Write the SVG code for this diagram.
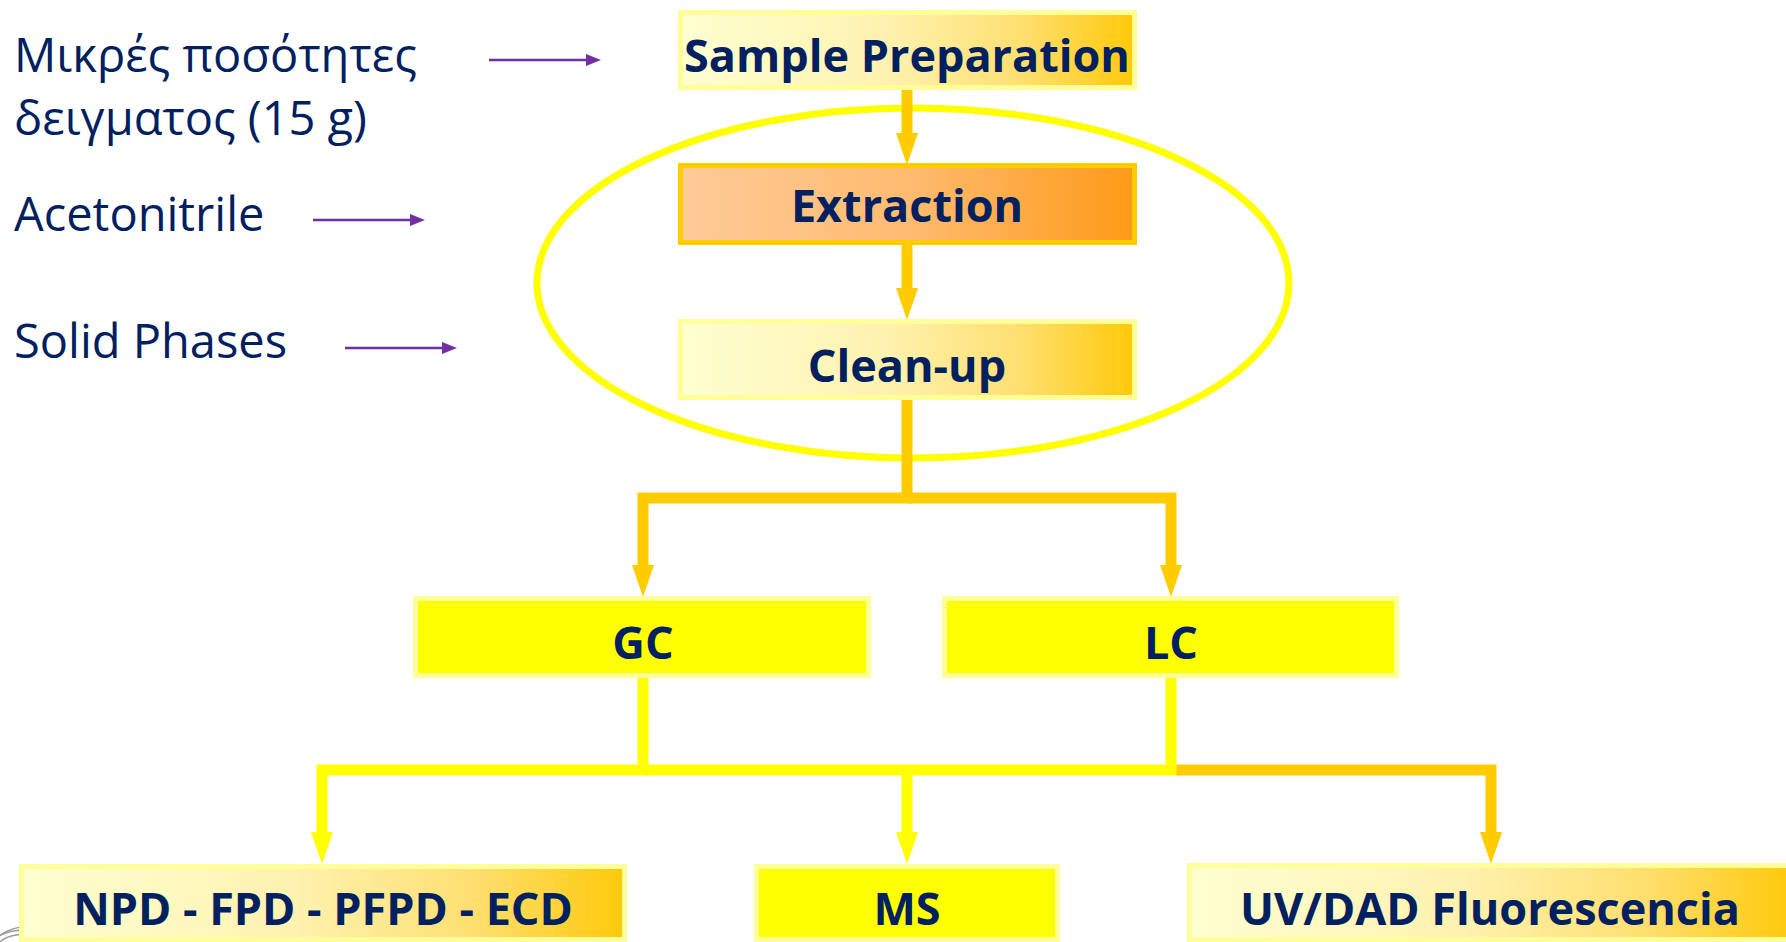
<svg xmlns="http://www.w3.org/2000/svg" width="1786" height="942" viewBox="0 0 1786 942">
<style>
.lbl{font-family:"Open Sans","Liberation Sans",sans-serif;font-size:47px;fill:#002060}
.node{font-family:"Open Sans","Liberation Sans",sans-serif;font-weight:bold;font-size:45px;fill:#002060;text-anchor:middle}
.pale{fill:url(#gPale);stroke:#ffff99;stroke-width:5}
.orng{fill:url(#gOrange);stroke:#ffcc00;stroke-width:5}
.yel{fill:#ffff00;stroke:#ffff99;stroke-width:5}
.cOr{fill:none;stroke:#ffcc00;stroke-width:11;stroke-linejoin:miter}
.cYe{fill:none;stroke:#ffff00;stroke-width:11;stroke-linejoin:miter}
.pur{fill:none;stroke:#7030a0;stroke-width:2.5}
</style>
<defs>
<linearGradient id="gPale" x1="0" y1="0" x2="1" y2="0">
<stop offset="0" stop-color="#ffffd2"/>
<stop offset="0.45" stop-color="#fff2b0"/>
<stop offset="0.75" stop-color="#ffdf70"/>
<stop offset="1" stop-color="#ffc90a"/>
</linearGradient>
<linearGradient id="gOrange" x1="0" y1="0" x2="1" y2="0">
<stop offset="0" stop-color="#ffcb98"/>
<stop offset="0.5" stop-color="#ffbb70"/>
<stop offset="1" stop-color="#ff9a18"/>
</linearGradient>
<marker id="hOr" markerUnits="userSpaceOnUse" markerWidth="32" markerHeight="22" refX="0" refY="11" orient="auto" viewBox="0 0 32 22">
<path d="M0,0 L32,11 L0,22 z" fill="#ffcc00"/>
</marker>
<marker id="hYe" markerUnits="userSpaceOnUse" markerWidth="32" markerHeight="22" refX="0" refY="11" orient="auto" viewBox="0 0 32 22">
<path d="M0,0 L32,11 L0,22 z" fill="#ffff00"/>
</marker>
<marker id="hPu" markerUnits="userSpaceOnUse" markerWidth="15" markerHeight="12" refX="0" refY="6" orient="auto" viewBox="0 0 15 12">
<path d="M0,0 L15,6 L0,12 z" fill="#7030a0"/>
</marker>
</defs>

<g id="logo-fragment" fill="none" stroke="#9a9a9a" stroke-width="1.5">
<path d="M-5,942 A40,20 0 0 1 30,926"/>
<path d="M-5,938 A40,20 0 0 1 30,930"/>
<path d="M0,942 A30,14 0 0 1 30,934"/>
</g>

<g id="group-ellipse">
<ellipse cx="913" cy="283" rx="376" ry="175" fill="none" stroke="#ffff00" stroke-width="7"/>
</g>

<g id="connectors">
<path class="cOr" d="M907,90 V133" marker-end="url(#hOr)"/>
<path class="cOr" d="M907,245 V288" marker-end="url(#hOr)"/>
<path class="cOr" d="M907,400 V498 H643 V565" marker-end="url(#hOr)"/>
<path class="cOr" d="M907,498 H1171 V565" marker-end="url(#hOr)"/>
<path class="cOr" d="M1176,770 H1491 V832" marker-end="url(#hOr)"/>
<path class="cYe" d="M643,678 V770 H322 V832" marker-end="url(#hYe)"/>
<path class="cYe" d="M1171,678 V770 H643"/>
<path class="cYe" d="M907,770 V832" marker-end="url(#hYe)"/>
<path class="pur" d="M489,60 H586" marker-end="url(#hPu)"/>
<path class="pur" d="M313,220 H410" marker-end="url(#hPu)"/>
<path class="pur" d="M345,348 H442" marker-end="url(#hPu)"/>
</g>

<g id="label-sample-qty">
<text class="lbl" x="14" y="72">Μικρές ποσότητες</text>
<text class="lbl" x="14" y="135">δειγματος (15 g)</text>
</g>
<g id="label-acetonitrile">
<text class="lbl" x="14" y="231">Acetonitrile</text>
</g>
<g id="label-solid-phases">
<text class="lbl" x="14" y="358">Solid Phases</text>
</g>

<g id="node-sample-preparation">
<rect class="pale" x="680.5" y="12.5" width="454" height="75"/>
<text class="node" x="907" y="72">Sample Preparation</text>
</g>
<g id="node-extraction">
<rect class="orng" x="680.5" y="165.5" width="454" height="77"/>
<text class="node" x="907" y="222">Extraction</text>
</g>
<g id="node-clean-up">
<rect class="pale" x="680.5" y="321.5" width="454" height="76"/>
<text class="node" x="907" y="382">Clean-up</text>
</g>
<g id="node-gc">
<rect class="yel" x="415.5" y="598.5" width="453" height="77"/>
<text class="node" x="643" y="659">GC</text>
</g>
<g id="node-lc">
<rect class="yel" x="944.5" y="598.5" width="452" height="77"/>
<text class="node" x="1171" y="659">LC</text>
</g>
<g id="node-npd">
<rect class="pale" x="21.5" y="866.5" width="603" height="73"/>
<text class="node" x="323" y="925">NPD - FPD - PFPD - ECD</text>
</g>
<g id="node-ms">
<rect class="yel" x="756.5" y="866.5" width="301" height="73"/>
<text class="node" x="907" y="925">MS</text>
</g>
<g id="node-uv">
<rect class="pale" x="1189.5" y="865.5" width="605" height="74"/>
<text class="node" x="1490" y="925">UV/DAD Fluorescencia</text>
</g>
</svg>
